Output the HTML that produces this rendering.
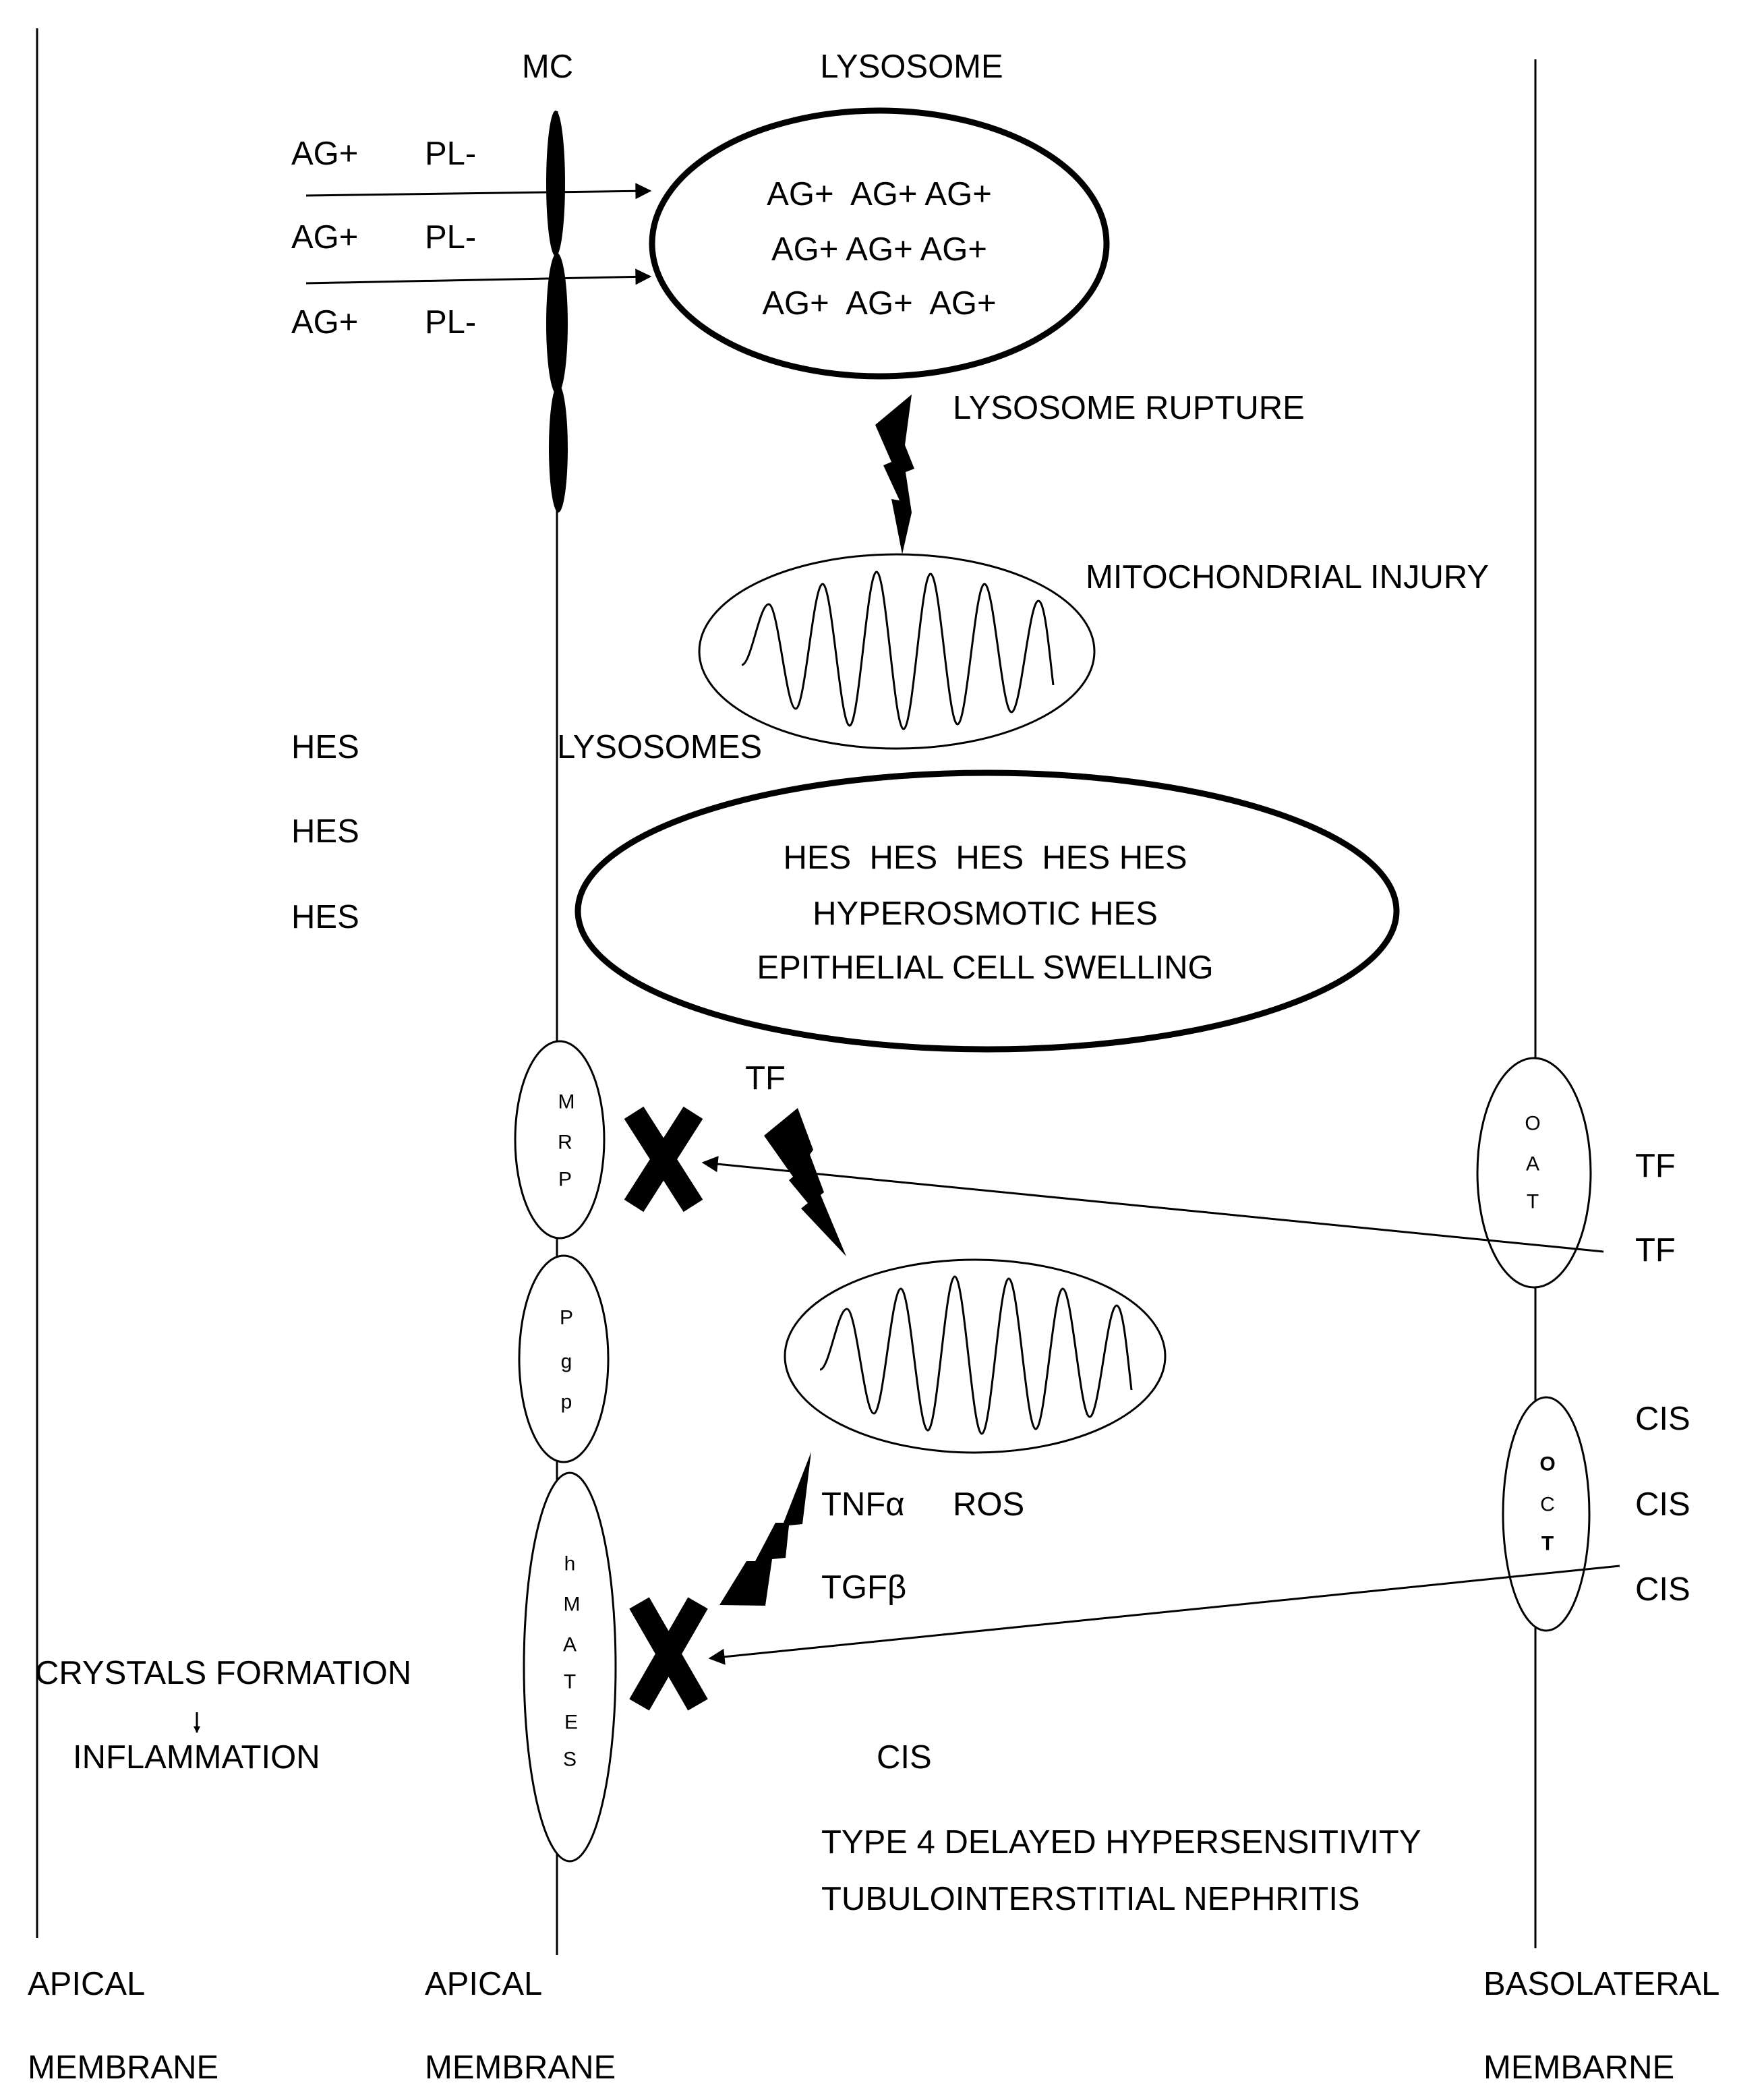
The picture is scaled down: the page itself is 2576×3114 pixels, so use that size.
<!DOCTYPE html>
<html><head><meta charset="utf-8"><style>html,body{margin:0;padding:0;background:#fff}svg{display:block}</style></head>
<body>
<svg width="2576" height="3114" viewBox="0 0 2576 3114" xmlns="http://www.w3.org/2000/svg" font-family="Liberation Sans, sans-serif" font-size="49" fill="#000">
<defs>
<marker id="ah" markerWidth="10" markerHeight="10" refX="9" refY="5" orient="auto" markerUnits="userSpaceOnUse" viewBox="0 0 10 10"><path d="M0,0 L10,5 L0,10 z" fill="#000"/></marker>
<marker id="ah2" viewBox="0 0 10 10" refX="9" refY="5" markerWidth="30" markerHeight="24" orient="auto" markerUnits="userSpaceOnUse"><path d="M0,0 L10,5 L0,10 z" fill="#000"/></marker>
</defs>
<g stroke="#000" fill="none">
<line x1="55" y1="42" x2="55" y2="2874" stroke-width="3"/>
<line x1="826" y1="165" x2="826" y2="2899" stroke-width="3"/>
<line x1="2277" y1="88" x2="2277" y2="2889" stroke-width="3"/>
</g>
<ellipse cx="824" cy="272" rx="14" ry="108"/>
<ellipse cx="826" cy="480" rx="16" ry="105"/>
<ellipse cx="828" cy="665" rx="14" ry="95"/>
<g stroke="#000" stroke-width="3">
<line x1="454" y1="290" x2="964" y2="283" marker-end="url(#ah2)"/>
<line x1="454" y1="420" x2="964" y2="410" marker-end="url(#ah2)"/>
</g>
<ellipse cx="1304" cy="361" rx="337" ry="197" fill="none" stroke="#000" stroke-width="9"/>
<ellipse cx="1464" cy="1351" rx="607" ry="205" fill="none" stroke="#000" stroke-width="9"/>
<g fill="none" stroke="#000" stroke-width="3" stroke-linejoin="round">
<ellipse cx="1330" cy="966" rx="293" ry="144"/>
<path transform="translate(1330,966)" d="M-230,20 C-216,20 -204,-70 -190,-70 C-176,-70 -164,85 -150,85 C-136,85 -124,-100 -110,-100 C-96,-100 -84,110 -70,110 C-56,110 -44,-118 -30,-118 C-16,-118 -4,115 10,115 C24,115 36,-115 50,-115 C64,-115 76,108 90,108 C104,108 116,-100 130,-100 C144,-100 156,90 170,90 C184,90 196,-75 210,-75 C220,-75 226,0 232,50"/>
<ellipse cx="1446" cy="2011" rx="282" ry="143"/>
<path transform="translate(1446,2011)" d="M-230,20 C-216,20 -204,-70 -190,-70 C-176,-70 -164,85 -150,85 C-136,85 -124,-100 -110,-100 C-96,-100 -84,110 -70,110 C-56,110 -44,-118 -30,-118 C-16,-118 -4,115 10,115 C24,115 36,-115 50,-115 C64,-115 76,108 90,108 C104,108 116,-100 130,-100 C144,-100 156,90 170,90 C184,90 196,-75 210,-75 C220,-75 226,0 232,50"/>
</g>
<g fill="#fff" stroke="#000" stroke-width="3">
<ellipse cx="830" cy="1690" rx="66" ry="146"/>
<ellipse cx="836" cy="2015" rx="66" ry="153"/>
<ellipse cx="845" cy="2472" rx="68" ry="288"/>
<ellipse cx="2275" cy="1739" rx="84" ry="170"/>
<ellipse cx="2293" cy="2245" rx="64" ry="173"/>
</g>
<polygon points="1352,585 1342,660 1356,695 1343,700 1352,760 1338,822 1322,740 1334,742 1310,690 1322,685 1298,630" fill="#000"/>
<polygon points="1183,1643 1206,1705 1201,1712 1222,1768 1217,1772 1255,1863 1188,1792 1198,1784 1170,1750 1176,1745 1133,1684" fill="#000"/>
<polygon points="1203,2153 1190,2260 1170,2262 1165,2310 1145,2312 1135,2381 1067,2380 1107,2315 1120,2315 1150,2258 1162,2258" fill="#000"/>
<g stroke="#000" stroke-width="3">
<line x1="2378" y1="1856" x2="1043" y2="1724" marker-end="url(#ah2)"/>
<line x1="2402" y1="2322" x2="1053" y2="2459" marker-end="url(#ah2)"/>
<line x1="292" y1="2539" x2="292" y2="2569" marker-end="url(#ah)"/>
</g>
<g stroke="#000" stroke-width="34">
<line x1="940" y1="1650" x2="1028" y2="1788"/><line x1="1028" y1="1650" x2="940" y2="1788"/>
<line x1="948" y1="2377" x2="1035" y2="2528"/><line x1="1035" y1="2377" x2="948" y2="2528"/>
</g>
<g dominant-baseline="central">
<text x="812" y="99" text-anchor="middle">MC</text>
<text x="1352" y="99" text-anchor="middle">LYSOSOME</text>
<text x="432" y="228">AG+</text><text x="630" y="228">PL-</text>
<text x="432" y="352">AG+</text><text x="630" y="352">PL-</text>
<text x="432" y="478">AG+</text><text x="630" y="478">PL-</text>
<text x="1304" y="288" text-anchor="middle" xml:space="preserve">AG+  AG+ AG+</text>
<text x="1304" y="370" text-anchor="middle">AG+ AG+ AG+</text>
<text x="1304" y="450" text-anchor="middle" xml:space="preserve">AG+  AG+  AG+</text>
<text x="1413" y="605">LYSOSOME RUPTURE</text>
<text x="1610" y="856">MITOCHONDRIAL INJURY</text>
<text x="432" y="1108">HES</text><text x="432" y="1233">HES</text><text x="432" y="1360">HES</text>
<text x="826" y="1108">LYSOSOMES</text>
<text x="1461" y="1272" text-anchor="middle" xml:space="preserve">HES  HES  HES  HES HES</text>
<text x="1461" y="1355" text-anchor="middle">HYPEROSMOTIC HES</text>
<text x="1461" y="1435" text-anchor="middle">EPITHELIAL CELL SWELLING</text>
<text x="1135" y="1599" text-anchor="middle">TF</text>
<text x="2425" y="1729">TF</text><text x="2425" y="1854">TF</text>
<text x="2425" y="2104">CIS</text><text x="2425" y="2231">CIS</text><text x="2425" y="2357">CIS</text>
<text x="1218" y="2231">TNFα</text><text x="1413" y="2231">ROS</text>
<text x="1218" y="2354">TGFβ</text>
<text x="52" y="2481">CRYSTALS FORMATION</text>
<text x="108" y="2606">INFLAMMATION</text>
<text x="1300" y="2606">CIS</text>
<text x="1218" y="2732">TYPE 4 DELAYED HYPERSENSITIVITY</text>
<text x="1218" y="2816">TUBULOINTERSTITIAL NEPHRITIS</text>
<text x="41" y="2942">APICAL</text><text x="41" y="3066">MEMBRANE</text>
<text x="630" y="2942">APICAL</text><text x="630" y="3066">MEMBRANE</text>
<text x="2200" y="2942">BASOLATERAL</text><text x="2200" y="3066">MEMBARNE</text>
<g font-size="30" text-anchor="middle">
<text x="840" y="1634">M</text><text x="838" y="1694">R</text><text x="838" y="1749">P</text>
<text x="840" y="1954">P</text><text x="840" y="2019">g</text><text x="840" y="2079">p</text>
<text x="845" y="2319">h</text><text x="848" y="2379">M</text><text x="845" y="2439">A</text><text x="845" y="2494">T</text><text x="847" y="2554">E</text><text x="845" y="2609">S</text>
<text x="2273" y="1666">O</text><text x="2273" y="1726">A</text><text x="2273" y="1782">T</text>
<text x="2295" y="2171" font-weight="bold">O</text><text x="2295" y="2231">C</text><text x="2295" y="2289" font-weight="bold">T</text>
</g>
</g>
</svg>
</body></html>
